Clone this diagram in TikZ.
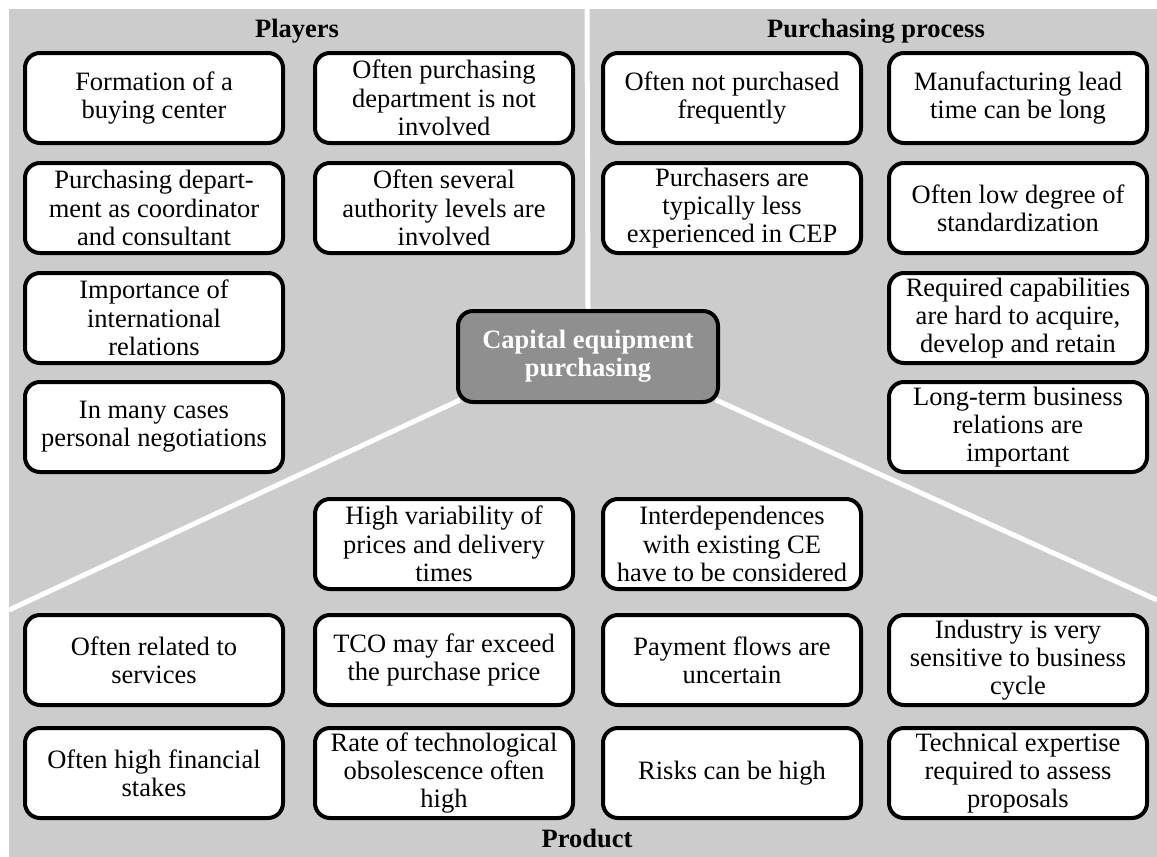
\documentclass[tikz,border=0pt]{standalone}
\usepackage{fontspec}
\setmainfont{Liberation Serif}
\pgfdeclarelayer{back}
\pgfdeclarelayer{mid}
\pgfsetlayers{back,mid,main}
\definecolor{panel}{HTML}{CCCCCC}
\definecolor{hubfill}{HTML}{8F8F8F}
\tikzset{
  item/.style={rectangle, rounded corners=15pt, draw=black, line width=4pt,
    fill=white, minimum width=258pt, minimum height=90pt, inner sep=0pt,
    align=center, font=\fontsize{26.5}{28.3}\selectfont},
  hubbox/.style={item, fill=hubfill, minimum width=260pt, minimum height=91pt,
    text=white, font=\fontsize{26.5}{28.3}\selectfont\bfseries},
  head/.style={inner sep=0pt, font=\fontsize{26.5}{28}\selectfont\bfseries},
  divider/.style={draw=white, line width=5pt}
}
\begin{document}
\begin{tikzpicture}[x=1pt,y=-1pt]
\useasboundingbox (0,0) rectangle (1157,857);
\begin{pgfonlayer}{back}
  \fill[white] (0,0) rectangle (1157,857);
  \fill[panel] (9,9) rectangle (1157,857);
\end{pgfonlayer}

% hub
\node[hubbox] (hub) at (588,356.5) {Capital equipment\\purchasing};

% dividers between the three sections
\coordinate (topend) at (587,9);
\coordinate (leftend) at (9,610);
\coordinate (rightend) at (1157,600);
\begin{pgfonlayer}{mid}
  \draw[divider] (topend) -- (hub.north);
  \draw[divider] (leftend) -- ([xshift=4pt,yshift=4pt]hub.south west);
  \draw[divider] ([xshift=-4pt,yshift=4pt]hub.south east) -- (rightend);
\end{pgfonlayer}

% section headings
\node[head] (hplayers) at (297,31) {Players};
\node[head] (hprocess) at (876,31) {Purchasing process};
\node[head] (hproduct) at (587,838) {Product};

% players
\node[item] (p1) at (154,98) {Formation of a\\buying center};
\node[item] (p2) at (444,98) {Often purchasing\\department is not\\involved};
\node[item] (p3) at (154,208) {Purchasing depart-\\ment as coordinator\\and consultant};
\node[item] (p4) at (444,208) {Often several\\authority levels are\\involved};
\node[item] (p5) at (154,318) {Importance of\\international\\relations};
\node[item] (p6) at (154,427) {In many cases\\personal negotiations};

% purchasing process
\node[item] (q1) at (732,98) {Often not purchased\\frequently};
\node[item] (q2) at (1018,98) {Manufacturing lead\\time can be long};
\node[item] (q3) at (732,208) {Purchasers are\\typically less\\experienced in CEP};
\node[item] (q4) at (1018,208) {Often low degree of\\standardization};
\node[item] (q5) at (1018,318) {Required capabilities\\are hard to acquire,\\develop and retain};
\node[item] (q6) at (1018,427) {Long-term business\\relations are\\important};

% product
\node[item] (r1) at (444,544) {High variability of\\prices and delivery\\times};
\node[item] (r2) at (732,544) {Interdependences\\with existing CE\\have to be considered};
\node[item] (r3) at (154,660) {Often related to\\services};
\node[item] (r4) at (444,660) {TCO may far exceed\\the purchase price};
\node[item] (r5) at (732,660) {Payment flows are\\uncertain};
\node[item] (r6) at (1018,660) {Industry is very\\sensitive to business\\cycle};
\node[item] (r7) at (154,773) {Often high financial\\stakes};
\node[item] (r8) at (444,773) {Rate of technological\\obsolescence often\\high};
\node[item] (r9) at (732,773) {Risks can be high};
\node[item] (r10) at (1018,773) {Technical expertise\\required to assess\\proposals};
\end{tikzpicture}
\end{document}
